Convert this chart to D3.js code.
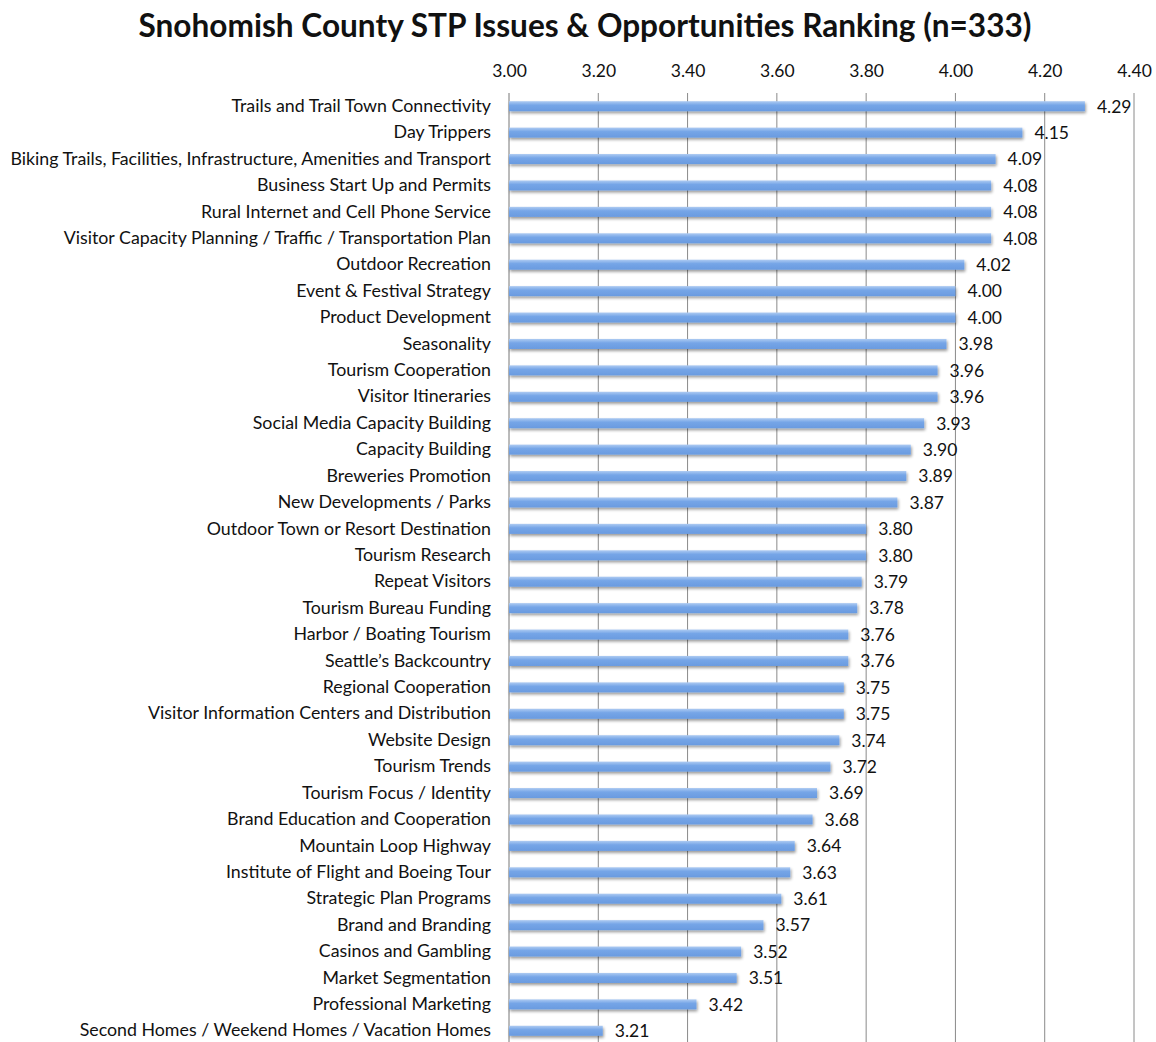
<!DOCTYPE html>
<html>
<head>
<meta charset="utf-8">
<script src="https://d3js.org/d3.v7.min.js"></script>
<style>
  body { margin: 0; background: #fff; }
  text { font-family: Lato, "Open Sans", sans-serif; fill: #111; }
</style>
</head>
<body>
<div id="chart"></div>
<script>
// categories and mean scores, top to bottom
const categories = [
  "Trails and Trail Town Connectivity",
  "Day Trippers",
  "Biking Trails, Facilities, Infrastructure, Amenities and Transport",
  "Business Start Up and Permits",
  "Rural Internet and Cell Phone Service",
  "Visitor Capacity Planning / Traffic / Transportation Plan",
  "Outdoor Recreation",
  "Event & Festival Strategy",
  "Product Development",
  "Seasonality",
  "Tourism Cooperation",
  "Visitor Itineraries",
  "Social Media Capacity Building",
  "Capacity Building",
  "Breweries Promotion",
  "New Developments / Parks",
  "Outdoor Town or Resort Destination",
  "Tourism Research",
  "Repeat Visitors",
  "Tourism Bureau Funding",
  "Harbor / Boating Tourism",
  "Seattle\u2019s Backcountry",
  "Regional Cooperation",
  "Visitor Information Centers and Distribution",
  "Website Design",
  "Tourism Trends",
  "Tourism Focus / Identity",
  "Brand Education and Cooperation",
  "Mountain Loop Highway",
  "Institute of Flight and Boeing Tour",
  "Strategic Plan Programs",
  "Brand and Branding",
  "Casinos and Gambling",
  "Market Segmentation",
  "Professional Marketing",
  "Second Homes / Weekend Homes / Vacation Homes"
];
const scores = [4.29, 4.15, 4.09, 4.08, 4.08, 4.08, 4.02, 4.00, 4.00, 3.98,
  3.96, 3.96, 3.93, 3.90, 3.89, 3.87, 3.80, 3.80, 3.79, 3.78,
  3.76, 3.76, 3.75, 3.75, 3.74, 3.72, 3.69, 3.68, 3.64, 3.63,
  3.61, 3.57, 3.52, 3.51, 3.42, 3.21];
const tickValues = [3.00, 3.20, 3.40, 3.60, 3.80, 4.00, 4.20, 4.40];

const data = categories.map((c, i) => ({ name: c, value: scores[i] }));

const W = 1156, H = 1042;
const margin = { top: 93, right: 22, bottom: -2, left: 509 };
const width = W - margin.left - margin.right,
  height = H - margin.top - margin.bottom;

const svg = d3.select("#chart").append("svg")
  .attr("width", W)
  .attr("height", H);

// bar gradient + soft shadow
const defs = svg.append("defs");
const grad = defs.append("linearGradient")
  .attr("id", "barGrad")
  .attr("x1", 0).attr("y1", 0).attr("x2", 0).attr("y2", 1);
grad.append("stop").attr("offset", "0%").attr("stop-color", "#aecbf2");
grad.append("stop").attr("offset", "40%").attr("stop-color", "#75a5e7");
grad.append("stop").attr("offset", "100%").attr("stop-color", "#6a9be0");

const shadow = defs.append("filter").attr("id", "shadow")
  .attr("x", "-5%").attr("y", "-50%").attr("width", "110%").attr("height", "250%");
shadow.append("feGaussianBlur").attr("in", "SourceAlpha").attr("stdDeviation", 1.5);
shadow.append("feOffset").attr("dx", 1).attr("dy", 2).attr("result", "blur");
shadow.append("feComponentTransfer").append("feFuncA").attr("type", "linear").attr("slope", 0.4);
const merge = shadow.append("feMerge");
merge.append("feMergeNode");
merge.append("feMergeNode").attr("in", "SourceGraphic");

// title
svg.append("text")
  .attr("x", 585)
  .attr("y", 37)
  .attr("text-anchor", "middle")
  .style("font-size", "31.6px")
  .style("font-weight", "bold")
  .text("Snohomish County STP Issues & Opportunities Ranking (n=333)");

const g = svg.append("g")
  .attr("transform", "translate(" + margin.left + "," + margin.top + ")");

const x = d3.scaleLinear()
  .domain([3.0, 4.4])
  .range([0, width]);

const y = d3.scaleBand()
  .domain(categories)
  .range([0, height])
  .paddingInner(0.62)
  .paddingOuter(0.31);

// gridlines
g.append("g")
  .selectAll("line")
  .data(tickValues)
  .enter().append("line")
    .attr("x1", d => x(d))
    .attr("x2", d => x(d))
    .attr("y1", 0)
    .attr("y2", height)
    .style("stroke", d => d === 3.0 ? "#777" : "#8a8a8a")
    .style("stroke-width", 1);

// top axis labels
const axisTop = g.append("g")
  .call(d3.axisTop(x).tickValues(tickValues).tickSize(0).tickPadding(16)
    .tickFormat(d3.format(".2f")));
axisTop.select(".domain").remove();
axisTop.selectAll("text")
  .style("font-family", "Lato, 'Open Sans', sans-serif")
  .style("font-size", "17.5px")
  .style("fill", "#111");

// category labels
const axisLeft = g.append("g")
  .call(d3.axisLeft(y).tickSize(0).tickPadding(18));
axisLeft.select(".domain").remove();
axisLeft.selectAll("text")
  .style("font-family", "Lato, 'Open Sans', sans-serif")
  .style("font-size", "17.8px")
  .style("fill", "#111");

// bars
g.append("g")
  .selectAll("rect")
  .data(data)
  .enter().append("rect")
    .attr("x", x(3.0))
    .attr("y", d => y(d.name))
    .attr("width", d => x(d.value) - x(3.0))
    .attr("height", y.bandwidth())
    .attr("fill", "url(#barGrad)")
    .attr("filter", "url(#shadow)");

// value labels
g.append("g")
  .selectAll("text")
  .data(data)
  .enter().append("text")
    .attr("x", d => x(d.value) + 12)
    .attr("y", d => y(d.name) + y.bandwidth() / 2)
    .attr("dy", "0.36em")
    .style("font-size", "17.5px")
    .text(d => d3.format(".2f")(d.value));
</script>
</body>
</html>
